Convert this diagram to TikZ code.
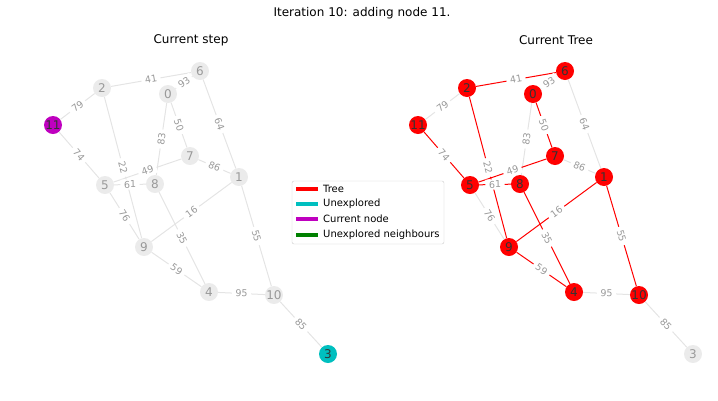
\documentclass[tikz,border=0pt]{standalone}
\usepackage{fontspec}
\setmainfont{DejaVu Sans}
\definecolor{nodegrey}{HTML}{EBEBEB}
\definecolor{edgegrey}{HTML}{E4E4E4}
\definecolor{labelgrey}{HTML}{999999}
\definecolor{mpred}{HTML}{FF0000}
\definecolor{mpcyan}{HTML}{00BFBF}
\definecolor{mpmagenta}{HTML}{BF00BF}
\definecolor{mpgreen}{HTML}{008000}
\definecolor{frame}{HTML}{CCCCCC}
\tikzset{
  vtx/.style={circle, fill=nodegrey, minimum size=18pt, inner sep=0pt,
    font=\fontsize{12}{12}\selectfont, text=labelgrey},
  treevtx/.style={vtx, fill=mpred, text=black!80},
  edge/.style={draw=edgegrey, line width=1pt},
  treeedge/.style={draw=mpred, line width=1pt},
  wlabel/.style={sloped, fill=white, inner xsep=3.5pt, inner ysep=1.5pt,
    text=labelgrey, font=\fontsize{9.5}{9.5}\selectfont},
  headline/.style={font=\fontsize{12}{12}\selectfont, text=black},
  legtext/.style={anchor=west, inner sep=0pt, font=\fontsize{10}{10}\selectfont},
  legline/.style={line width=4pt}
}
\begin{document}
\begin{tikzpicture}[x=1pt, y=-1pt]
    \useasboundingbox (0,0) rectangle (718,400);
    % titles
    \node[headline] (title) at (362,13) {Iteration 10: adding node 11.};
    \node[headline] (stephead) at (191,40) {Current step};
    \node[headline] (treehead) at (556,40) {Current Tree};

    % current step
    \node[vtx] (a6) at (200,71) {6};
    \node[vtx] (a2) at (102,88) {2};
    \node[vtx] (a0) at (168,94) {0};
    \node[vtx, fill=mpmagenta, text=black!80] (a11) at (53,125) {11};
    \node[vtx] (a7) at (190,156) {7};
    \node[vtx] (a1) at (239,177) {1};
    \node[vtx] (a5) at (105,185) {5};
    \node[vtx] (a8) at (155,184) {8};
    \node[vtx] (a9) at (144,247) {9};
    \node[vtx] (a4) at (209,292) {4};
    \node[vtx] (a10) at (274,295) {10};
    \node[vtx, fill=mpcyan, text=black!80] (a3) at (328,354) {3};
    \draw[edge] (a2) -- (a6);
    \draw[edge] (a0) -- (a6);
    \draw[edge] (a2) -- (a11);
    \draw[edge] (a2) -- (a9);
    \draw[edge] (a6) -- (a1);
    \draw[edge] (a0) -- (a7);
    \draw[edge] (a0) -- (a8);
    \draw[edge] (a7) -- (a5);
    \draw[edge] (a7) -- (a1);
    \draw[edge] (a11) -- (a5);
    \draw[edge] (a5) -- (a8);
    \draw[edge] (a5) -- (a9);
    \draw[edge] (a8) -- (a4);
    \draw[edge] (a1) -- (a9);
    \draw[edge] (a1) -- (a10);
    \draw[edge] (a9) -- (a4);
    \draw[edge] (a4) -- (a10);
    \draw[edge] (a10) -- (a3);
    \path (a2) -- node[wlabel] {41} (a6);
    \path (a0) -- node[wlabel] {93} (a6);
    \path (a2) -- node[wlabel] {79} (a11);
    \path (a2) -- node[wlabel] {22} (a9);
    \path (a6) -- node[wlabel] {64} (a1);
    \path (a0) -- node[wlabel] {50} (a7);
    \path (a0) -- node[wlabel] {83} (a8);
    \path (a7) -- node[wlabel] {49} (a5);
    \path (a7) -- node[wlabel] {86} (a1);
    \path (a11) -- node[wlabel] {74} (a5);
    \path (a5) -- node[wlabel] {61} (a8);
    \path (a5) -- node[wlabel] {76} (a9);
    \path (a8) -- node[wlabel] {35} (a4);
    \path (a1) -- node[wlabel] {16} (a9);
    \path (a1) -- node[wlabel] {55} (a10);
    \path (a9) -- node[wlabel] {59} (a4);
    \path (a4) -- node[wlabel] {95} (a10);
    \path (a10) -- node[wlabel] {85} (a3);

    % current tree
    \node[treevtx] (b6) at (565,71) {6};
    \node[treevtx] (b2) at (467,88) {2};
    \node[treevtx] (b0) at (533,94) {0};
    \node[treevtx] (b11) at (418,125) {11};
    \node[treevtx] (b7) at (555,156) {7};
    \node[treevtx] (b1) at (604,177) {1};
    \node[treevtx] (b5) at (470,185) {5};
    \node[treevtx] (b8) at (520,184) {8};
    \node[treevtx] (b9) at (509,247) {9};
    \node[treevtx] (b4) at (574,292) {4};
    \node[treevtx] (b10) at (639,295) {10};
    \node[vtx] (b3) at (693,354) {3};
    \draw[treeedge] (b2) -- (b6);
    \draw[edge] (b0) -- (b6);
    \draw[edge] (b2) -- (b11);
    \draw[treeedge] (b2) -- (b9);
    \draw[edge] (b6) -- (b1);
    \draw[treeedge] (b0) -- (b7);
    \draw[edge] (b0) -- (b8);
    \draw[treeedge] (b7) -- (b5);
    \draw[edge] (b7) -- (b1);
    \draw[treeedge] (b11) -- (b5);
    \draw[treeedge] (b5) -- (b8);
    \draw[edge] (b5) -- (b9);
    \draw[treeedge] (b8) -- (b4);
    \draw[treeedge] (b1) -- (b9);
    \draw[treeedge] (b1) -- (b10);
    \draw[treeedge] (b9) -- (b4);
    \draw[edge] (b4) -- (b10);
    \draw[edge] (b10) -- (b3);
    \path (b2) -- node[wlabel] {41} (b6);
    \path (b0) -- node[wlabel] {93} (b6);
    \path (b2) -- node[wlabel] {79} (b11);
    \path (b2) -- node[wlabel] {22} (b9);
    \path (b6) -- node[wlabel] {64} (b1);
    \path (b0) -- node[wlabel] {50} (b7);
    \path (b0) -- node[wlabel] {83} (b8);
    \path (b7) -- node[wlabel] {49} (b5);
    \path (b7) -- node[wlabel] {86} (b1);
    \path (b11) -- node[wlabel] {74} (b5);
    \path (b5) -- node[wlabel] {61} (b8);
    \path (b5) -- node[wlabel] {76} (b9);
    \path (b8) -- node[wlabel] {35} (b4);
    \path (b1) -- node[wlabel] {16} (b9);
    \path (b1) -- node[wlabel] {55} (b10);
    \path (b9) -- node[wlabel] {59} (b4);
    \path (b4) -- node[wlabel] {95} (b10);
    \path (b10) -- node[wlabel] {85} (b3);

    % legend
    \draw[frame, fill=white, rounded corners=2pt] (292,181) rectangle (444,244);
    \node[legtext] (lt1) at (323,189) {Tree};
    \node[legtext] (lt2) at (323,204) {Unexplored};
    \node[legtext] (lt3) at (323,219) {Current node};
    \node[legtext] (lt4) at (323,235) {Unexplored neighbours};
    \draw[legline, mpred] ([xshift=-27pt]lt1.west) -- ([xshift=-5pt]lt1.west);
    \draw[legline, mpcyan] ([xshift=-27pt]lt2.west) -- ([xshift=-5pt]lt2.west);
    \draw[legline, mpmagenta] ([xshift=-27pt]lt3.west) -- ([xshift=-5pt]lt3.west);
    \draw[legline, mpgreen] ([xshift=-27pt]lt4.west) -- ([xshift=-5pt]lt4.west);
\end{tikzpicture}
\end{document}
